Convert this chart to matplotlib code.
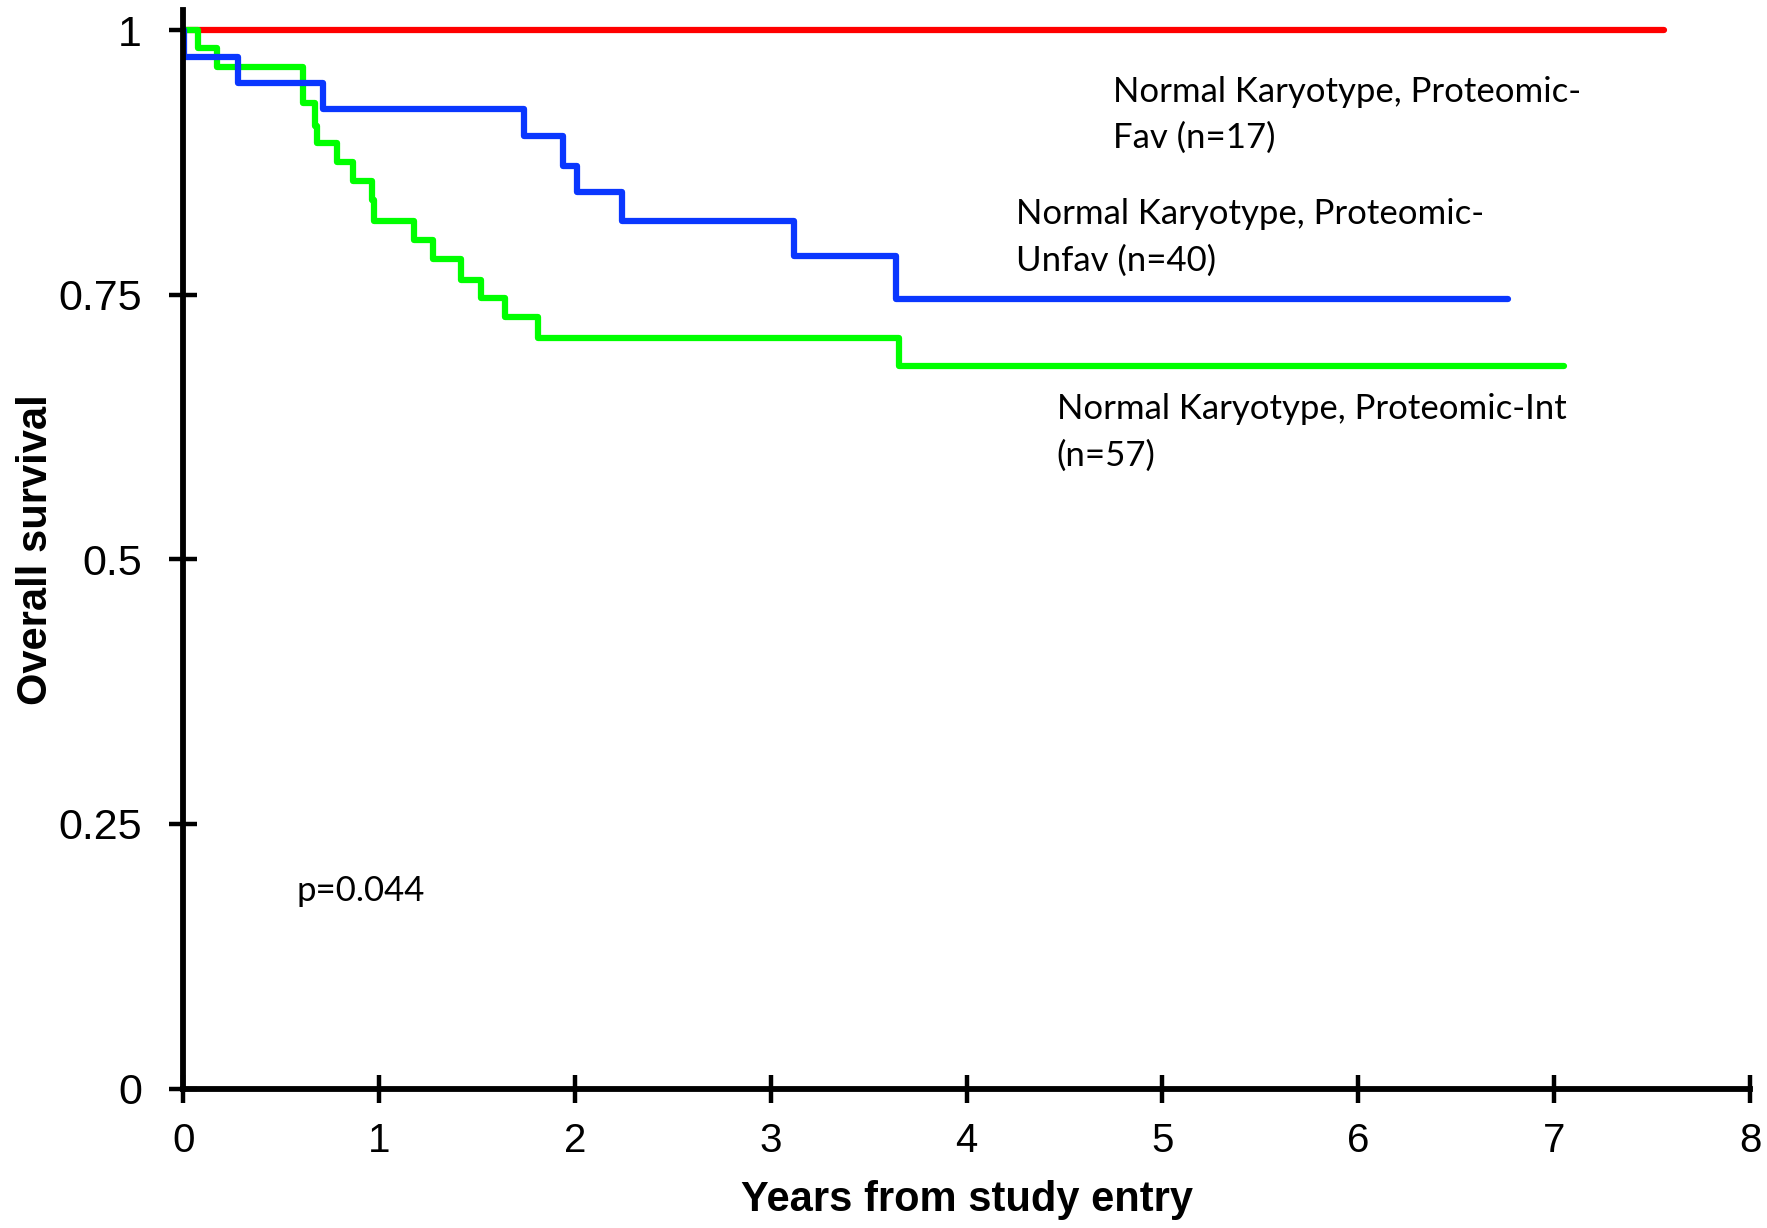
import matplotlib.pyplot as plt

# Kaplan-Meier curves, normal karyotype split by proteomic group
fav_t = [0, 7.56]
fav_s = [1, 1]

unfav_t = [0, 0.005, 0.28, 0.715, 1.74, 1.94, 2.01, 2.24, 3.12, 3.64, 6.765]
unfav_s = [1, 0.975, 0.95, 0.925, 0.90, 0.872, 0.847, 0.820, 0.787, 0.746, 0.746]

int_t = [0, 0.077, 0.17, 0.61, 0.672, 0.684, 0.783, 0.865, 0.962, 0.974,
         1.18, 1.274, 1.42, 1.52, 1.643, 1.81, 3.657, 7.05]
int_s = [1, 0.983, 0.965, 0.931, 0.909, 0.893, 0.875, 0.857, 0.839, 0.820,
         0.802, 0.784, 0.764, 0.747, 0.729, 0.709, 0.683, 0.683]

xticks = [0, 1, 2, 3, 4, 5, 6, 7, 8]
yticks = [0, 0.25, 0.5, 0.75, 1]
ytick_labels = ["0", "0.25", "0.5", "0.75", "1"]

plt.rcParams['font.family'] = ['Liberation Sans', 'DejaVu Sans']

fig = plt.figure(figsize=(17.67, 12.28), dpi=100)
ax = fig.add_axes([0.1037, 0.1135, 0.8867, 0.8784])

lw = 4.5
ax.plot(fav_t, fav_s, color='#ff0000', lw=lw, drawstyle='steps-post',
        solid_capstyle='round', solid_joinstyle='round')
ax.plot(int_t, int_s, color='#00ff00', lw=lw, drawstyle='steps-post',
        solid_capstyle='round', solid_joinstyle='round')
ax.plot(unfav_t, unfav_s, color='#0a37ff', lw=lw, drawstyle='steps-post',
        solid_capstyle='round', solid_joinstyle='round')

ax.set_xlim(0, 8)
ax.set_ylim(0, 1.019)
ax.set_xticks(xticks)
ax.set_yticks(yticks)
ax.set_yticklabels(ytick_labels)

for s in ['top', 'right']:
    ax.spines[s].set_visible(False)
for s in ['left', 'bottom']:
    ax.spines[s].set_linewidth(4.2)
ax.tick_params(axis='both', direction='inout', length=19.5, width=3.2)
ax.tick_params(axis='x', labelsize=29, pad=14)
ax.tick_params(axis='y', labelsize=31, pad=20)

ax.set_xlabel("Years from study entry", fontsize=30, fontweight='bold')
ax.xaxis.set_label_coords(0.5, -0.085)
ax.set_ylabel("Overall survival", fontsize=30, fontweight='bold')
ax.yaxis.set_label_coords(-0.0815, 0.5)

# group labels
lab = dict(fontsize=25, family=['Lato', 'DejaVu Sans'], va='top', ha='left',
           linespacing=1.55)
ax.text(4.745, 0.957, "Normal Karyotype, Proteomic-\nFav (n=17)", **lab)
ax.text(4.25, 0.841, "Normal Karyotype, Proteomic-\nUnfav (n=40)", **lab)
ax.text(4.46, 0.657, "Normal Karyotype, Proteomic-Int\n(n=57)", **lab)
ax.text(0.576, 0.202, "p=0.044", **lab)

fig.savefig("out.png", dpi=100)
